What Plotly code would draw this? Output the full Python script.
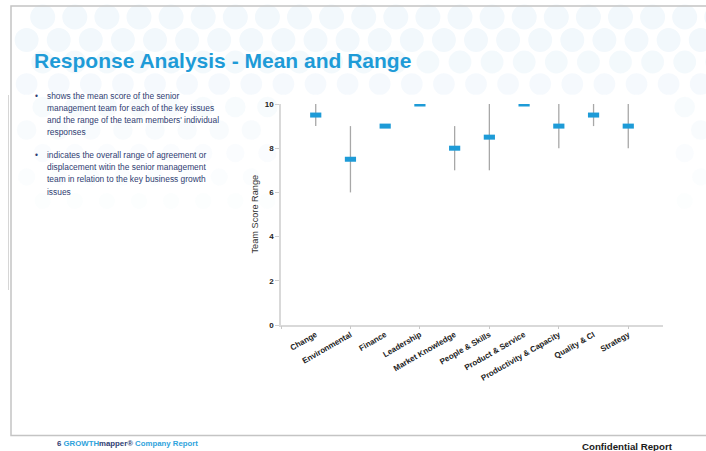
import plotly.graph_objects as go

# ---- data -------------------------------------------------------------
categories = ["Change", "Environmental", "Finance", "Leadership", "Market Knowledge",
              "People & Skills", "Product & Service", "Productivity & Capacity",
              "Quality & CI", "Strategy"]
mean_score = [9.5, 7.5, 9, 10, 8, 8.5, 10, 9, 9.5, 9]
min_score = [9, 6, 9, 10, 7, 7, 10, 8, 9, 8]
max_score = [10, 9, 9, 10, 9, 10, 10, 10, 10, 10]
y_ticks = [0, 2, 4, 6, 8, 10]

bullet_1 = ["shows the mean score of the senior",
            "management team for each of the key issues",
            "and the range of the team members' individual",
            "responses"]
bullet_2 = ["indicates the overall range of agreement or",
            "displacement witin the senior management",
            "team in relation to the key business growth",
            "issues"]

# ---- page geometry (pixels) -------------------------------------------
W, H = 706, 451
L, R, T, B = 281, 663, 104, 325

def fx(px):
    return (px - L) / (R - L)

def fy(py):
    return (B - py) / (B - T)

FONT = "Arial, Liberation Sans, sans-serif"
BLUE = "#1e9bd7"
NAVY = "#2f3d72"

x_idx = list(range(len(categories)))

# vertical range lines (min..max) for every issue
rx, ry = [], []
for i, lo, hi in zip(x_idx, min_score, max_score):
    rx += [i, i, None]
    ry += [lo, hi, None]

fig = go.Figure()
fig.add_trace(go.Scatter(
    x=rx, y=ry, mode="lines",
    line=dict(color="#a8a8a8", width=1.3),
    hoverinfo="skip", showlegend=False,
))
# mean markers: short thick horizontal bars
fig.add_trace(go.Scatter(
    x=x_idx, y=mean_score, mode="markers",
    marker=dict(symbol="line-ew", size=8,
                line=dict(color=BLUE, width=5)),
    text=categories, hovertemplate="%{text}: %{y}<extra></extra>",
    showlegend=False,
))
# invisible trace for the overlay axis that carries the tick marks
fig.add_trace(go.Scatter(
    x=[-1], y=[0], xaxis="x2", mode="markers",
    marker=dict(opacity=0), hoverinfo="skip", showlegend=False,
))

shapes = []

# pale dotted background pattern across the top of the page
rows_y = [17, 40, 62, 84, 107, 130, 153, 177, 201]
for r_i, cy in enumerate(rows_y):
    rad = 12.5 - 0.55 * r_i
    alpha = [1.0, 1.0, 0.9, 0.8, 0.6, 0.5, 0.4, 0.3, 0.2][r_i]
    x0 = 10.6 if r_i % 2 == 0 else 26.6
    cx = x0
    while cx < W + 20:
        left, right, top, bot = cx - rad, cx + rad, cy - rad, cy + rad
        inside_plot = right > L - 2 and left < R + 2 and bot > T - 2
        if left >= 11 and not inside_plot:
            shapes.append(dict(
                type="circle", xref="paper", yref="paper",
                x0=fx(left), x1=fx(right), y0=fy(bot), y1=fy(top),
                fillcolor="rgb(242,248,252)", opacity=alpha,
                line=dict(width=0), layer="below",
            ))
        cx += 32.1

# page frame
shapes.append(dict(type="rect", xref="paper", yref="paper",
                   x0=fx(11), x1=fx(W + 30), y0=fy(435.5), y1=fy(6),
                   line=dict(color="#c4c4c4", width=1.5), layer="below"))
shapes.append(dict(type="line", xref="paper", yref="paper",
                   x0=fx(8.5), x1=fx(8.5), y0=fy(290), y1=fy(95),
                   line=dict(color="#d6d6d6", width=1), layer="below"))

annotations = []

def text(px, py, s, size, color, bold=False, anchor="left"):
    annotations.append(dict(
        xref="paper", yref="paper", x=fx(px), y=fy(py),
        xanchor=anchor, yanchor="middle", showarrow=False,
        text=f"<b>{s}</b>" if bold else s,
        font=dict(family=FONT, size=size, color=color),
    ))

text(32, 60, "Response Analysis - Mean and Range", 21, BLUE, bold=True)

for k, line in enumerate(bullet_1):
    text(45, 96 + 12.1 * k, line, 8.4, NAVY)
for k, line in enumerate(bullet_2):
    text(45, 155 + 12.2 * k, line, 8.4, NAVY)
text(33, 96, "•", 8.4, NAVY)
text(33, 155, "•", 8.4, NAVY)

# y-axis title
annotations.append(dict(
    xref="paper", yref="paper", x=fx(254), y=fy(214.5),
    xanchor="center", yanchor="middle", showarrow=False, textangle=-90,
    text="Team Score Range",
    font=dict(family=FONT, size=9.2, color="#333333"),
))

# footer
text(55, 444,
     f"<b><span style='color:{NAVY}'>6 </span>"
     f"<span style='color:#2fa3dc'>GROWTH</span>"
     f"<span style='color:{NAVY}'>mapper®</span>"
     f"<span style='color:#2fa3dc'> Company Report</span></b>",
     7.8, NAVY)
text(580, 446, "Confidential Report", 9.7, "#1a1a1a", bold=True)

fig.update_layout(
    width=W, height=H,
    margin=dict(l=L, r=W - R, t=T, b=H - B, pad=0),
    paper_bgcolor="white", plot_bgcolor="white",
    font=dict(family=FONT),
    showlegend=False,
    shapes=shapes,
    annotations=annotations,
    xaxis=dict(
        range=[-1, 10], tickmode="array", tickvals=x_idx, ticktext=categories,
        tickangle=-30, ticks="", showgrid=False, zeroline=False,
        showline=True, linecolor="#d9d9d9", linewidth=2,
        tickfont=dict(family=FONT, size=8, color="#222222", weight="bold"),
        fixedrange=True,
    ),
    xaxis2=dict(
        overlaying="x", anchor="y", side="bottom",
        range=[-1, 10], tickmode="array", tickvals=[-1, 1, 3, 5, 7, 9],
        ticks="outside", ticklen=3, tickwidth=1, tickcolor="#c8c8c8",
        showticklabels=False, showgrid=False, zeroline=False, showline=False,
        fixedrange=True,
    ),
    yaxis=dict(
        range=[0, 10], tickmode="array", tickvals=y_ticks,
        ticks="outside", ticklen=4, tickcolor="#cfcfcf", tickwidth=1,
        showgrid=False, zeroline=False,
        showline=True, linecolor="#d9d9d9", linewidth=1.5,
        tickfont=dict(family=FONT, size=8, color="#222222", weight="bold"),
        fixedrange=True,
    ),
)

fig.write_html("out.html")
